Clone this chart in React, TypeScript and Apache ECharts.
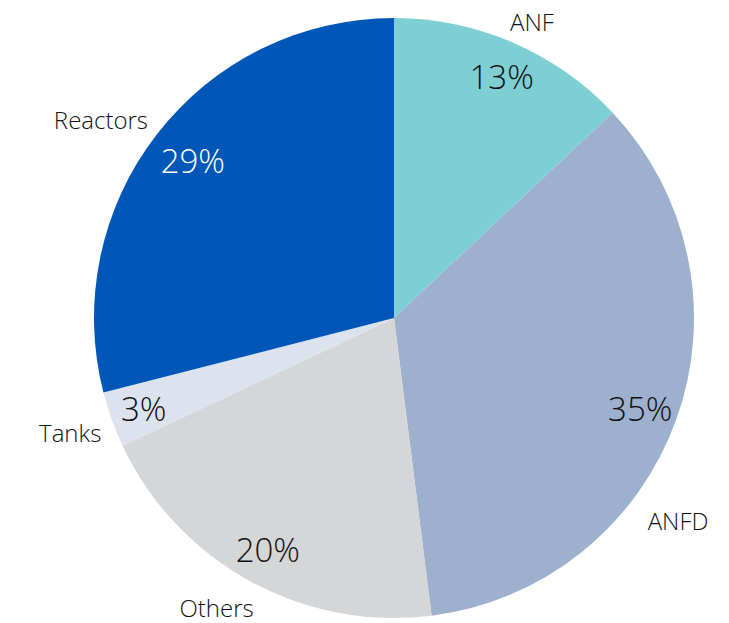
import React, { useEffect, useRef } from "react";
import * as echarts from "echarts";

const categories = ["ANF", "ANFD", "Others", "Tanks", "Reactors"];
const shares = [13, 35, 20, 3, 29];
const colors = ["#7ECFD4", "#9DB0CE", "#D5D6D8", "#DDE3EE", "#0057B8"];
const percentColors = ["#111111", "#111111", "#111111", "#111111", "#FFFFFF"];
const nameOffsets = [
  [-12, -12],
  [-43, 97],
  [14, 18],
  [4, 9],
  [4, -8],
];
const percentOffsets = [
  [2, 3],
  [-4, 0],
  [2, -2],
  [0, 0],
  [9, 6],
];

const FONT = "'Open Sans', 'Lato', sans-serif";

export default function App() {
  const ref = useRef<HTMLDivElement>(null);
  useEffect(() => {
    document.body.style.margin = "0";
    const chart = echarts.init(ref.current!, null, { renderer: "svg" });
    chart.setOption({
      animation: false,
      backgroundColor: "#FFFFFF",
      series: [
        {
          type: "pie",
          center: [394, 318],
          radius: [0, 300],
          startAngle: 90,
          silent: true,
          avoidLabelOverlap: false,
          data: categories.map((name, i) => ({
            name,
            value: shares[i],
            itemStyle: { color: colors[i] },
          })),
          label: {
            show: true,
            position: "outside",
            formatter: "{b}",
            fontFamily: FONT,
            fontWeight: 300,
            fontSize: 24,
            color: "#111111",
          },
          labelLine: { show: false, length: 10, length2: 0 },
          labelLayout: (params: any) => {
            const o = nameOffsets[params.dataIndex] || [0, 0];
            return { dx: o[0], dy: o[1] };
          },
        },
        {
          type: "pie",
          center: [394, 318],
          radius: [226, 300],
          startAngle: 90,
          silent: true,
          data: categories.map((name, i) => ({
            name,
            value: shares[i],
            itemStyle: { color: "transparent" },
            label: { color: percentColors[i] },
          })),
          label: {
            show: true,
            position: "inside",
            formatter: "{c}%",
            fontFamily: FONT,
            fontWeight: 300,
            fontSize: 33,
          },
          labelLine: { show: false },
          labelLayout: (params: any) => {
            const o = percentOffsets[params.dataIndex] || [0, 0];
            return { dx: o[0], dy: o[1] };
          },
        },
      ],
    });
    return () => chart.dispose();
  }, []);
  return <div ref={ref} style={{ width: 729, height: 623 }} />;
}
